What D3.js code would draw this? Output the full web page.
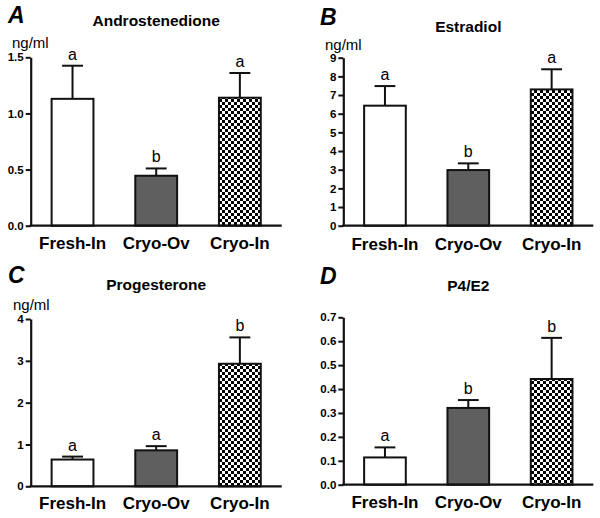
<!DOCTYPE html>
<html>
<head>
<meta charset="utf-8">
<script src="https://cdn.jsdelivr.net/npm/d3@7"></script>
<style>
  html, body { margin: 0; padding: 0; background: #fff; }
  svg { display: block; font-family: "Liberation Sans", Arial, Helvetica, sans-serif; }
</style>
</head>
<body>
<svg id="chart" width="600" height="518"></svg>
<script>
// ---------- data ----------
const categories = ["Fresh-In", "Cryo-Ov", "Cryo-In"];

const androMean = [1.13, 0.445, 1.14];
const androSem  = [0.295, 0.065, 0.22];
const androSig  = ["a", "b", "a"];
const androTicks = [0.0, 0.5, 1.0, 1.5];

const estrMean = [6.43, 2.98, 7.30];
const estrSem  = [1.05, 0.36, 1.08];
const estrSig  = ["a", "b", "a"];
const estrTicks = [0, 1, 2, 3, 4, 5, 6, 7, 8, 9];

const progMean = [0.64, 0.86, 2.93];
const progSem  = [0.07, 0.10, 0.63];
const progSig  = ["a", "a", "b"];
const progTicks = [0, 1, 2, 3, 4];

const ratioMean = [0.114, 0.321, 0.442];
const ratioSem  = [0.042, 0.033, 0.172];
const ratioSig  = ["a", "b", "b"];
const ratioTicks = [0.0, 0.1, 0.2, 0.3, 0.4, 0.5, 0.6, 0.7];

const panelLetters = ["A", "B", "C", "D"];
const panelTitles = ["Androstenedione", "Estradiol", "Progesterone", "P4/E2"];
const unitLabel = "ng/ml";

// ---------- layout ----------
const svg = d3.select("#chart");
const defs = svg.append("defs");
const pat = defs.append("pattern")
  .attr("id", "checker").attr("patternUnits", "userSpaceOnUse")
  .attr("width", 6).attr("height", 6);
pat.append("rect").attr("width", 6).attr("height", 6).attr("fill", "#fff");
pat.append("rect").attr("x", 0).attr("y", 0).attr("width", 3).attr("height", 3).attr("fill", "#000");
pat.append("rect").attr("x", 3).attr("y", 3).attr("width", 3).attr("height", 3).attr("fill", "#000");

const fills = ["#ffffff", "#5f5f5f", "url(#checker)"];

const panels = [
  { mean: androMean, sem: androSem, sig: androSig, ticks: androTicks, fmt: d3.format(".1f"),
    ax: 30.7, xEnd: 281.7, top: 57.3, bottom: 225.7, letterPos: [8, 23], titleY: 26,
    unit: [12, 47.5], xLabY: 248.5 },
  { mean: estrMean, sem: estrSem, sig: estrSig, ticks: estrTicks, fmt: d3.format("d"),
    ax: 343.3, xEnd: 593.3, top: 57.7, bottom: 225.7, letterPos: [320, 25], titleY: 31.5,
    unit: [325, 49.5], xLabY: 250 },
  { mean: progMean, sem: progSem, sig: progSig, ticks: progTicks, fmt: d3.format("d"),
    ax: 30.7, xEnd: 281.7, top: 319, bottom: 486.3, letterPos: [8, 283], titleY: 289.5,
    unit: [13, 309.5], xLabY: 509 },
  { mean: ratioMean, sem: ratioSem, sig: ratioSig, ticks: ratioTicks, fmt: d3.format(".1f"),
    ax: 343.3, xEnd: 593.3, top: 317.3, bottom: 484.7, letterPos: [320, 284], titleY: 291,
    unit: null, xLabY: 508 }
];

panels.forEach((p, i) => {
  const g = svg.append("g");
  const yMax = p.ticks[p.ticks.length - 1];
  const y = d3.scaleLinear().domain([0, yMax]).range([p.bottom, p.top]);
  const x = d3.scaleBand().domain(categories).range([p.ax, p.xEnd])
    .paddingInner(0.5).paddingOuter(0.25);
  const bw = x.bandwidth();

  // panel letter
  g.append("text").attr("x", p.letterPos[0]).attr("y", p.letterPos[1])
    .attr("font-size", 23).attr("font-weight", "bold").attr("font-style", "italic")
    .text(panelLetters[i]);

  // title
  g.append("text").attr("x", (p.ax + p.xEnd) / 2).attr("y", p.titleY)
    .attr("text-anchor", "middle").attr("font-size", 15.5).attr("font-weight", "bold")
    .text(panelTitles[i]);

  // unit
  if (p.unit) {
    g.append("text").attr("x", p.unit[0]).attr("y", p.unit[1])
      .attr("font-size", 15).text(unitLabel);
  }

  // bars
  categories.forEach((c, j) => {
    const v = p.mean[j], e = p.sem[j];
    const cx = x(c) + bw / 2;
    // error bar (upper only)
    g.append("line").attr("x1", cx).attr("x2", cx)
      .attr("y1", y(v)).attr("y2", y(v + e))
      .attr("stroke", "#111").attr("stroke-width", 2);
    g.append("line").attr("x1", cx - bw / 4).attr("x2", cx + bw / 4)
      .attr("y1", y(v + e)).attr("y2", y(v + e))
      .attr("stroke", "#111").attr("stroke-width", 2);
    g.append("rect").attr("x", x(c)).attr("y", y(v))
      .attr("width", bw).attr("height", y(0) - y(v))
      .attr("fill", fills[j]).attr("stroke", "#111").attr("stroke-width", 2);
    // significance letter
    g.append("text").attr("x", cx).attr("y", y(v + e) - 6)
      .attr("text-anchor", "middle").attr("font-size", 16)
      .text(p.sig[j]);
    // category label
    g.append("text").attr("x", cx).attr("y", p.xLabY)
      .attr("text-anchor", "middle").attr("font-size", 17).attr("font-weight", "bold")
      .text(c);
  });

  // y axis
  const yAxis = d3.axisLeft(y).tickValues(p.ticks).tickFormat(p.fmt)
    .tickSize(5).tickSizeOuter(0).tickPadding(2);
  const ya = g.append("g").attr("transform", `translate(${p.ax},0)`).call(yAxis);
  ya.select(".domain").attr("stroke", "#111").attr("stroke-width", 2.2);
  ya.selectAll(".tick line").attr("stroke", "#111").attr("stroke-width", 2);
  ya.selectAll(".tick text").attr("font-size", 11.5).attr("font-weight", "bold")
    .attr("fill", "#000").attr("font-family", "'Liberation Sans', Arial, sans-serif");

  // x axis line
  g.append("line").attr("x1", p.ax - 1).attr("x2", p.xEnd)
    .attr("y1", y(0)).attr("y2", y(0))
    .attr("stroke", "#111").attr("stroke-width", 2.2);
});
</script>
</body>
</html>
